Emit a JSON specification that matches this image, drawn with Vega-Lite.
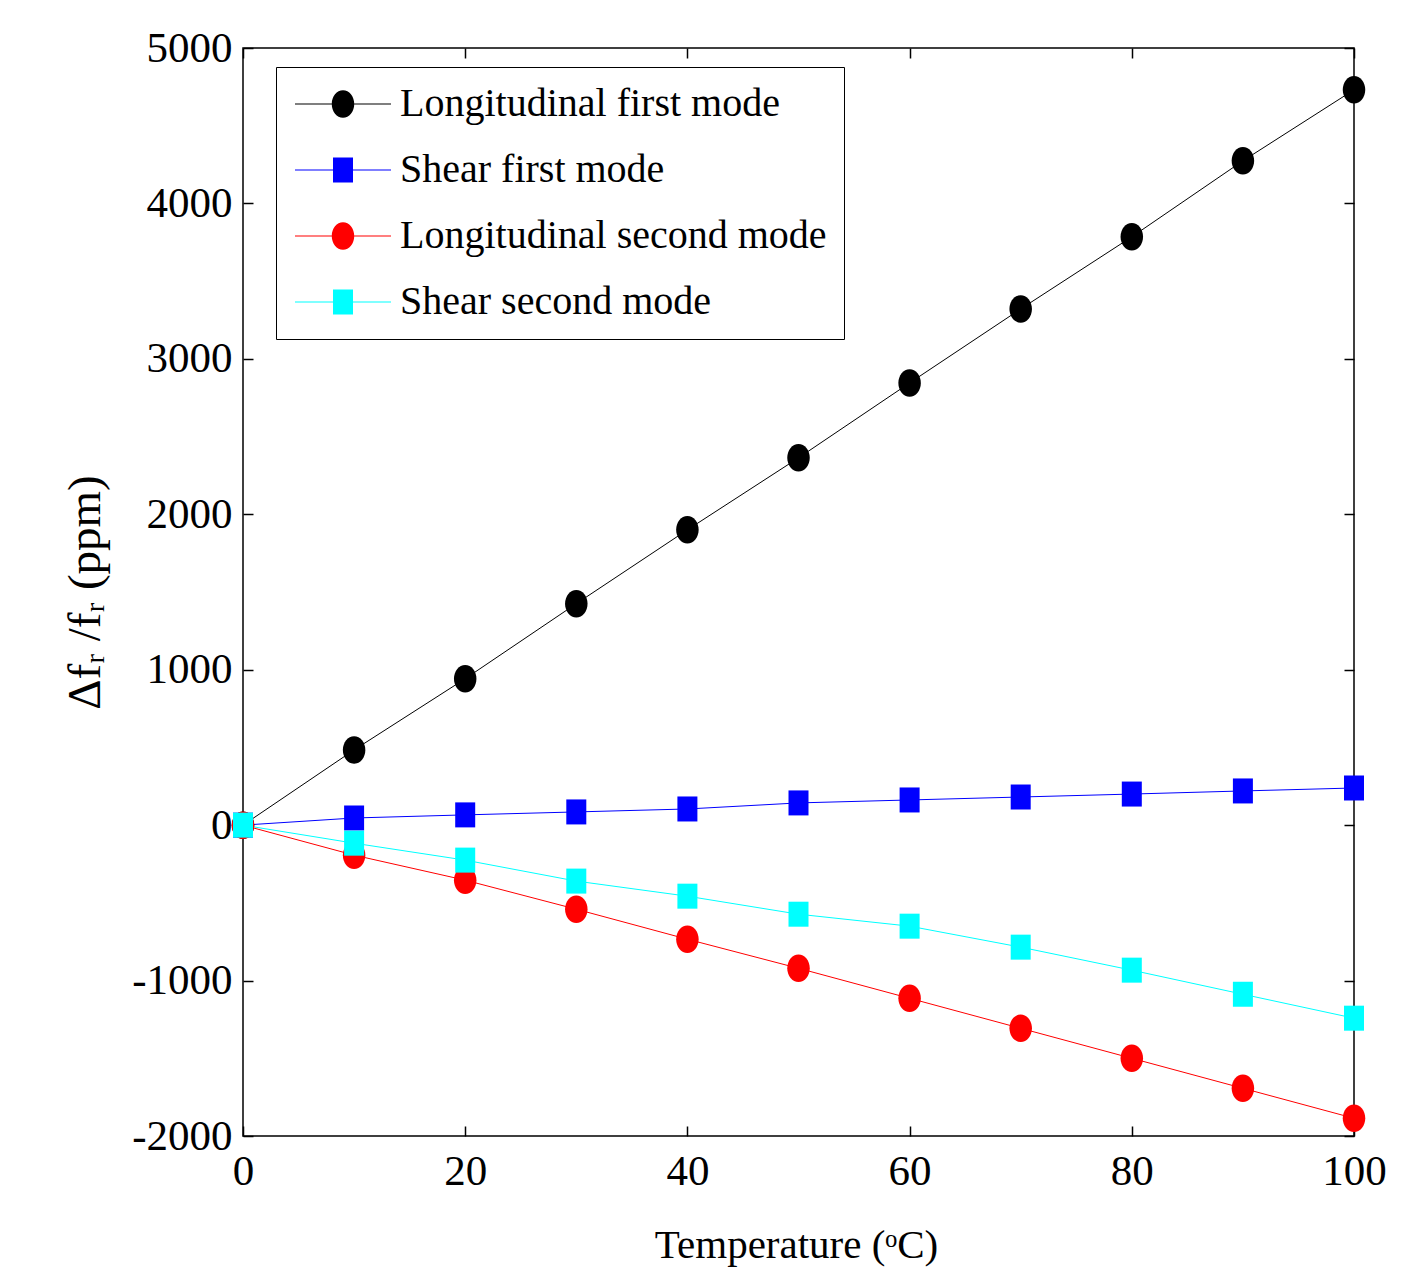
{
  "$schema": "https://vega.github.io/schema/vega-lite/v6.json",
  "width": 1111,
  "height": 1088,
  "autosize": "none",
  "padding": {"left": 243, "top": 48, "right": 52, "bottom": 143},
  "background": "white",
  "config": {
    "view": {"stroke": "black", "strokeWidth": 1.5},
    "font": "Liberation Serif",
    "axis": {"grid": false, "domain": false, "tickColor": "black", "tickWidth": 1.5, "labelColor": "black", "titleColor": "black", "labelFont": "Liberation Serif", "titleFont": "Liberation Serif", "titleFontWeight": "normal"}
  },
  "data": {
    "values": [
      {"series": "Longitudinal first mode", "t": 0, "v": 0},
      {"series": "Longitudinal first mode", "t": 10, "v": 484},
      {"series": "Longitudinal first mode", "t": 20, "v": 942},
      {"series": "Longitudinal first mode", "t": 30, "v": 1425},
      {"series": "Longitudinal first mode", "t": 40, "v": 1900},
      {"series": "Longitudinal first mode", "t": 50, "v": 2363},
      {"series": "Longitudinal first mode", "t": 60, "v": 2845},
      {"series": "Longitudinal first mode", "t": 70, "v": 3321},
      {"series": "Longitudinal first mode", "t": 80, "v": 3785},
      {"series": "Longitudinal first mode", "t": 90, "v": 4274},
      {"series": "Longitudinal first mode", "t": 100, "v": 4731},
      {"series": "Shear first mode", "t": 0, "v": 0},
      {"series": "Shear first mode", "t": 10, "v": 46},
      {"series": "Shear first mode", "t": 20, "v": 66},
      {"series": "Shear first mode", "t": 30, "v": 85},
      {"series": "Shear first mode", "t": 40, "v": 104},
      {"series": "Shear first mode", "t": 50, "v": 143},
      {"series": "Shear first mode", "t": 60, "v": 162},
      {"series": "Shear first mode", "t": 70, "v": 181},
      {"series": "Shear first mode", "t": 80, "v": 200},
      {"series": "Shear first mode", "t": 90, "v": 220},
      {"series": "Shear first mode", "t": 100, "v": 239},
      {"series": "Longitudinal second mode", "t": 0, "v": 0},
      {"series": "Longitudinal second mode", "t": 10, "v": -193},
      {"series": "Longitudinal second mode", "t": 20, "v": -354},
      {"series": "Longitudinal second mode", "t": 30, "v": -541},
      {"series": "Longitudinal second mode", "t": 40, "v": -734},
      {"series": "Longitudinal second mode", "t": 50, "v": -921},
      {"series": "Longitudinal second mode", "t": 60, "v": -1114},
      {"series": "Longitudinal second mode", "t": 70, "v": -1307},
      {"series": "Longitudinal second mode", "t": 80, "v": -1500},
      {"series": "Longitudinal second mode", "t": 90, "v": -1693},
      {"series": "Longitudinal second mode", "t": 100, "v": -1886},
      {"series": "Shear second mode", "t": 0, "v": 0},
      {"series": "Shear second mode", "t": 10, "v": -116},
      {"series": "Shear second mode", "t": 20, "v": -225},
      {"series": "Shear second mode", "t": 30, "v": -360},
      {"series": "Shear second mode", "t": 40, "v": -457},
      {"series": "Shear second mode", "t": 50, "v": -573},
      {"series": "Shear second mode", "t": 60, "v": -650},
      {"series": "Shear second mode", "t": 70, "v": -785},
      {"series": "Shear second mode", "t": 80, "v": -933},
      {"series": "Shear second mode", "t": 90, "v": -1088},
      {"series": "Shear second mode", "t": 100, "v": -1242}
    ]
  },
  "resolve": {
    "axis": {"x": "independent", "y": "independent"},
    "scale": {"color": "independent", "shape": "independent"},
    "legend": {"color": "independent", "shape": "independent"}
  },
  "layer": [
    {
      "mark": {"type": "line", "strokeWidth": 1},
      "encoding": {
        "x": {"field": "t", "type": "quantitative", "scale": {"domain": [0, 100], "nice": false, "zero": false},
          "axis": {"orient": "bottom", "values": [0, 20, 40, 60, 80, 100], "tickSize": -10, "labelFontSize": 43, "labelPadding": 24, "labelFlush": false,
            "title": "Temperature (ᵒC)", "titleFontSize": 41, "titleX": 553, "titleY": 109, "titleAlign": "center", "titleBaseline": "middle"}},
        "y": {"field": "v", "type": "quantitative", "scale": {"domain": [-2000, 5000], "nice": false, "zero": false},
          "axis": {"orient": "left", "values": [-2000, -1000, 0, 1000, 2000, 3000, 4000, 5000], "tickSize": -10, "labelFontSize": 43, "labelPadding": 21, "labelFlush": false,
            "labelExpr": "datum.value < 0 ? '-' + abs(datum.value) : '' + datum.value",
            "title": "Δfᵣ /fᵣ  (ppm)", "titleFontSize": 47, "titleX": -158, "titleY": 544, "titleAngle": -90, "titleAlign": "center", "titleBaseline": "middle"}},
        "color": {"field": "series", "type": "nominal", "legend": null,
          "scale": {"domain": ["Longitudinal first mode", "Shear first mode", "Longitudinal second mode", "Shear second mode"], "range": ["#000000", "#0000ff", "#ff0000", "#00ffff"]}},
        "detail": {"field": "series"}
      }
    },
    {
      "mark": {"type": "point", "filled": true, "size": 625, "opacity": 1, "strokeWidth": 0},
      "encoding": {
        "x": {"field": "t", "type": "quantitative",
          "axis": {"orient": "top", "values": [0, 20, 40, 60, 80, 100], "tickSize": -10, "labels": false, "title": null}},
        "y": {"field": "v", "type": "quantitative",
          "axis": {"orient": "right", "values": [-2000, -1000, 0, 1000, 2000, 3000, 4000, 5000], "tickSize": -10, "labels": false, "title": null}},
        "color": {"field": "series", "type": "nominal", "legend": null,
          "scale": {"domain": ["Longitudinal first mode", "Shear first mode", "Longitudinal second mode", "Shear second mode"], "range": ["#000000", "#0000ff", "#ff0000", "#00ffff"]}},
        "shape": {"field": "series", "type": "nominal", "legend": null,
          "scale": {"domain": ["Longitudinal first mode", "Shear first mode", "Longitudinal second mode", "Shear second mode"],
            "range": ["M-0.9,0A0.9,1.1,0,1,0,0.9,0A0.9,1.1,0,1,0,-0.9,0Z", "M-0.8,-1H0.8V1H-0.8Z", "M-0.9,0A0.9,1.1,0,1,0,0.9,0A0.9,1.1,0,1,0,-0.9,0Z", "M-0.8,-1H0.8V1H-0.8Z"]}}
      }
    },
    {
      "transform": [{"filter": "datum.t < 0"}],
      "mark": {"type": "point", "filled": true, "size": 625, "opacity": 1, "strokeWidth": 0},
      "encoding": {
        "x": {"field": "t", "type": "quantitative", "axis": null},
        "y": {"field": "v", "type": "quantitative", "axis": null},
        "color": {"field": "series", "type": "nominal",
          "scale": {"domain": ["Longitudinal first mode", "Shear first mode", "Longitudinal second mode", "Shear second mode"], "range": ["#000000", "#0000ff", "#ff0000", "#00ffff"]},
          "legend": {"title": null, "orient": "none", "legendX": 33, "legendY": 19, "padding": 17, "strokeColor": "black", "fillColor": "white",
            "encode": {"legend": {"update": {"strokeWidth": {"value": 1.5}}}},
            "labelFont": "Liberation Serif", "labelFontSize": 40, "labelColor": "black", "labelLimit": 1000, "symbolSize": 625, "symbolStrokeWidth": 0, "symbolOffset": 30, "labelOffset": 37, "rowPadding": 26}},
        "shape": {"field": "series", "type": "nominal",
          "scale": {"domain": ["Longitudinal first mode", "Shear first mode", "Longitudinal second mode", "Shear second mode"],
            "range": ["M-3.84,-0.045H-0.9V0.045H-3.84Z M0.9,-0.045H3.84V0.045H0.9Z M-0.9,0A0.9,1.1,0,1,0,0.9,0A0.9,1.1,0,1,0,-0.9,0Z", "M-3.84,-0.045H-0.8V0.045H-3.84Z M0.8,-0.045H3.84V0.045H0.8Z M-0.8,-1H0.8V1H-0.8Z", "M-3.84,-0.045H-0.9V0.045H-3.84Z M0.9,-0.045H3.84V0.045H0.9Z M-0.9,0A0.9,1.1,0,1,0,0.9,0A0.9,1.1,0,1,0,-0.9,0Z", "M-3.84,-0.045H-0.8V0.045H-3.84Z M0.8,-0.045H3.84V0.045H0.8Z M-0.8,-1H0.8V1H-0.8Z"]},
          "legend": {"title": null, "orient": "none", "legendX": 33, "legendY": 19, "padding": 17, "strokeColor": "black", "fillColor": "white",
            "encode": {"legend": {"update": {"strokeWidth": {"value": 1.5}}}},
            "labelFont": "Liberation Serif", "labelFontSize": 40, "labelColor": "black", "labelLimit": 1000, "symbolSize": 625, "symbolStrokeWidth": 0, "symbolOffset": 30, "labelOffset": 37, "rowPadding": 26}}
      }
    }
  ]
}
